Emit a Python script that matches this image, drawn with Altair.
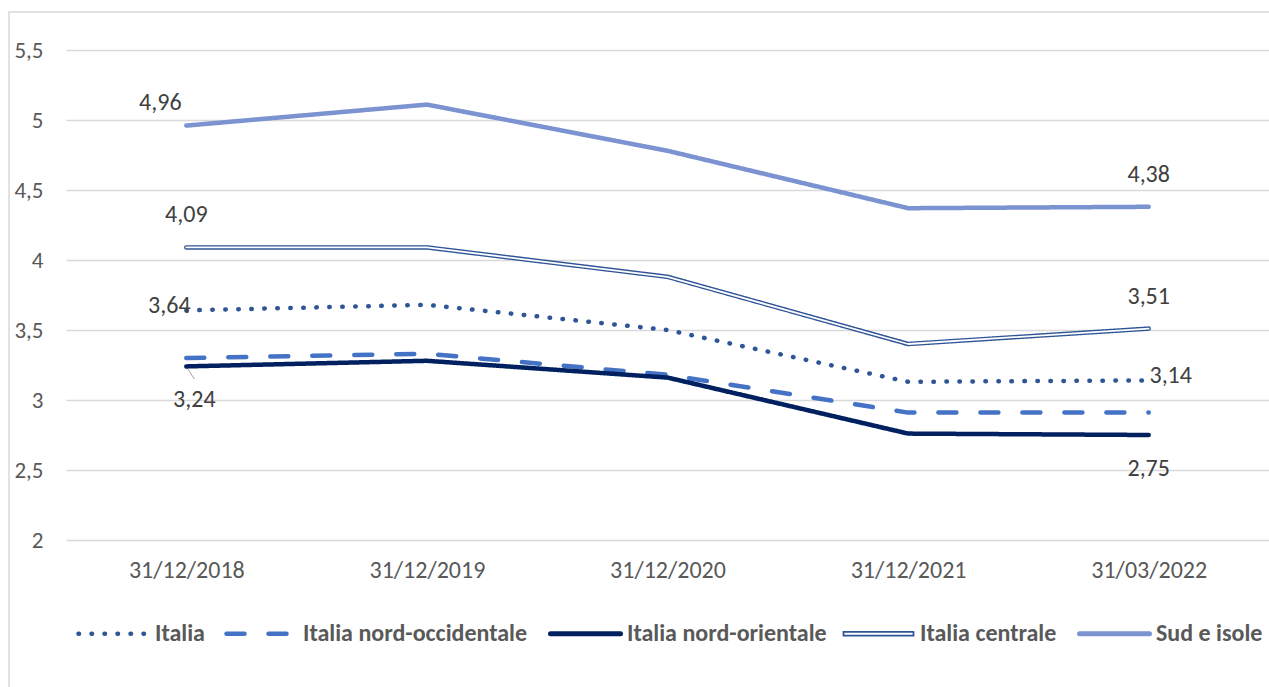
import altair as alt
import pandas as pd

# Reference dates (category axis)
dates = ["31/12/2018", "31/12/2019", "31/12/2020", "31/12/2021", "31/03/2022"]

# Series names, in legend order
series_names = [
    "Italia",
    "Italia nord-occidentale",
    "Italia nord-orientale",
    "Italia centrale",
    "Sud e isole",
]

# Values per series
italia = [3.64, 3.68, 3.50, 3.13, 3.14]
nord_occidentale = [3.30, 3.33, 3.18, 2.91, 2.91]
nord_orientale = [3.24, 3.28, 3.16, 2.76, 2.75]
centrale = [4.09, 4.09, 3.88, 3.40, 3.51]
sud_isole = [4.96, 5.11, 4.78, 4.37, 4.38]

y_ticks = [2, 2.5, 3, 3.5, 4, 4.5, 5, 5.5]

values_by_series = dict(zip(series_names, [italia, nord_occidentale, nord_orientale, centrale, sud_isole]))

rows = []
for name, vals in values_by_series.items():
    for d, v in zip(dates, vals):
        rows.append({"series": name, "date": d, "value": v})
df = pd.DataFrame(rows)

# Which points carry a value label, and where the label sits
labelled = [
    ("Sud e isole", "31/12/2018", "upleft"),
    ("Italia centrale", "31/12/2018", "above"),
    ("Italia", "31/12/2018", "left"),
    ("Italia nord-orientale", "31/12/2018", "belowright"),
    ("Sud e isole", "31/03/2022", "above"),
    ("Italia centrale", "31/03/2022", "above"),
    ("Italia", "31/03/2022", "right"),
    ("Italia nord-orientale", "31/03/2022", "below"),
]
placement_offsets = {
    "upleft": (-26, -23),
    "above": (0, -32),
    "left": (-17, -4),
    "belowright": (8, 34),
    "right": (22, -4),
    "below": (0, 34),
}

lab_rows = []
for s, d, p in labelled:
    v = values_by_series[s][dates.index(d)]
    lab_rows.append({"series": s, "date": d, "value": v, "place": p})
labels_df = pd.DataFrame(lab_rows)

FONT = "Carlito, Lato, sans-serif"
W, H = 1203, 490

colors = ["#2F5597", "#4472C4", "#002060", "#2F5597", "#7B93D0"]
dashes = [[0.5, 12.5], [18, 24], [1, 0], [1, 0], [1, 0]]
widths = [4.5, 4.5, 5, 5, 5.5]

x_enc = alt.X(
    "date:N",
    sort=dates,
    scale=alt.Scale(type="point", padding=0.5),
    axis=alt.Axis(
        title=None, labelAngle=0, labelAlign="center", labelBaseline="top",
        ticks=False, domain=False, grid=False,
        labelFont=FONT, labelFontSize=24, labelColor="#595959", labelPadding=18,
    ),
)
y_enc = alt.Y(
    "value:Q",
    scale=alt.Scale(domain=[2, 5.5], nice=False, zero=False),
    axis=alt.Axis(
        title=None, values=y_ticks, ticks=False, domain=False,
        grid=True, gridColor="#D9D9D9", gridWidth=1.5,
        labelFont=FONT, labelFontSize=23, labelColor="#595959", labelPadding=23,
        labelExpr="replace(toString(datum.value), '.', ',')",
    ),
)

legend = alt.Legend(
    title=None, orient="none", legendX=10, legendY=546, direction="horizontal",
    columns=5, symbolType="stroke", symbolSize=4900, columnPadding=12,
    labelOffset=4, labelFont=FONT, labelFontSize=24, labelFontWeight="bold",
    labelColor="#595959", labelLimit=400,
)

# Legend symbols: round caps for the dotted/dashed strokes, an outlined
# capsule standing for the double line of "Italia centrale"
legend_symbols = {
    "symbols": {
        "update": {
            "fill": {"value": "transparent"},
            "strokeCap": {"value": "round"},
            "shape": {
                "signal": "datum.value === 'Italia centrale' ? 'M-1,-0.055H1V0.055H-1Z' : 'stroke'"
            },
            "strokeWidth": {
                "signal": "datum.value === 'Italia centrale' ? 1.8 : "
                          "(datum.value === 'Italia' || datum.value === 'Italia nord-occidentale' ? 4.5 : 5)"
            },
        }
    }
}

lines = alt.Chart(df).mark_line(strokeCap="round", strokeJoin="round").encode(
    x=x_enc,
    y=y_enc,
    color=alt.Color("series:N", scale=alt.Scale(domain=series_names, range=colors), legend=legend),
    strokeDash=alt.StrokeDash("series:N", scale=alt.Scale(domain=series_names, range=dashes), legend=legend),
    strokeWidth=alt.StrokeWidth("series:N", scale=alt.Scale(domain=series_names, range=widths), legend=legend),
    order=alt.Order("series:N"),
)

# Inner white stroke turns the "Italia centrale" line into a double line
inner = alt.Chart(df).transform_filter(
    alt.datum.series == "Italia centrale"
).mark_line(color="white", strokeWidth=1.8, strokeCap="round", strokeJoin="round").encode(
    x=alt.X("date:N", sort=dates), y="value:Q"
)

text_layers = []
for place, (dx, dy) in placement_offsets.items():
    text_layers.append(
        alt.Chart(labels_df)
        .transform_filter(alt.datum.place == place)
        .transform_calculate(lbl="replace(format(datum.value, '.2f'), '.', ',')")
        .mark_text(font=FONT, fontSize=24, color="#404040", dx=dx, dy=dy, align="center", baseline="middle")
        .encode(x=alt.X("date:N", sort=dates), y="value:Q", text="lbl:N")
    )

# Short leader line from the 3,24 point toward its label
leader = (
    alt.Chart(labels_df)
    .transform_filter(alt.datum.place == "belowright")
    .transform_calculate(v2="datum.value - 0.09")
    .mark_rule(color="#A6A6A6", strokeWidth=1, x2Offset=8)
    .encode(x=alt.X("date:N", sort=dates), x2="date:N", y="value:Q", y2="v2:Q")
)

frame = alt.Chart(alt.Data(values=[{}])).mark_rect(
    fill="transparent", stroke="#D9D9D9", strokeWidth=1.5
).encode(
    x=alt.value(-57), y=alt.value(-38), x2=alt.value(1300), y2=alt.value(700)
)

chart = alt.layer(frame, leader, lines, inner, *text_layers).properties(
    width=W, height=H,
    autosize=alt.AutoSizeParams(type="none"),
    padding={"left": 66, "top": 50, "right": 0, "bottom": 147},
    background="white",
    usermeta={"embedOptions": {"patch": [
        {"op": "add", "path": "/legends/0/encode", "value": legend_symbols}
    ]}},
).configure_view(stroke=None)

chart.save("out.html", embed_options={"renderer": "svg", "actions": False})
